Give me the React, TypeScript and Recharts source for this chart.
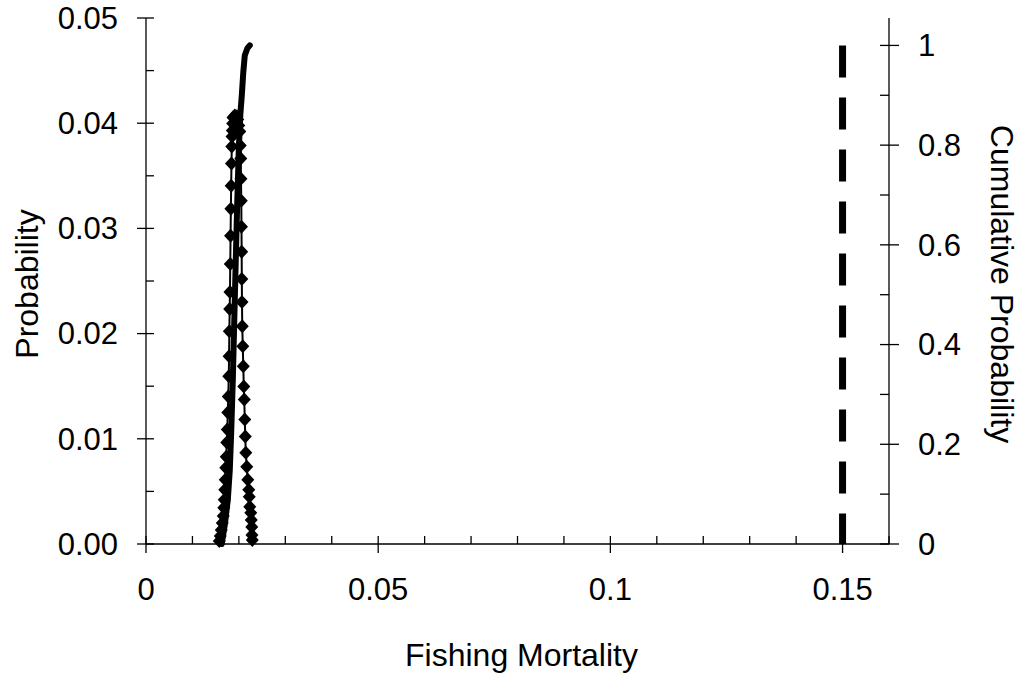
import React from "react";
import { ComposedChart, Scatter, XAxis, YAxis, Label } from "recharts";

// probability distribution of F (diamonds, left axis)
const densityF = [
  0.01578, 0.01599, 0.01621, 0.01642, 0.01664, 0.01675, 0.01685, 0.01696, 0.01707, 0.01718,
  0.01728, 0.01739, 0.0175, 0.01761, 0.01772, 0.01782, 0.01789, 0.01795, 0.01802, 0.01808,
  0.01815, 0.01821, 0.01828, 0.01834, 0.01841, 0.01847, 0.01853, 0.0186, 0.01866, 0.01873,
  0.01912, 0.01955,
  0.01976, 0.01998, 0.02019, 0.0203, 0.02041, 0.02045, 0.02052, 0.02056, 0.0206, 0.02063,
  0.02067, 0.02073, 0.02084, 0.02095, 0.02106, 0.02116, 0.02127, 0.02138, 0.02149, 0.0217,
  0.02192, 0.02213, 0.02224, 0.02235, 0.02256, 0.02267, 0.02278, 0.02282, 0.02289,
];
const densityP = [
  0.00029, 0.00076, 0.00134, 0.002, 0.00267, 0.00344, 0.0042, 0.00515, 0.00611, 0.00725,
  0.0083, 0.00964, 0.01088, 0.0125, 0.01403, 0.01594, 0.01784, 0.02023, 0.02233, 0.02395,
  0.02662, 0.02929, 0.03187, 0.03406, 0.03616, 0.03779, 0.03874, 0.03931, 0.03998, 0.04055,
  0.04074, 0.04065,
  0.04036, 0.03979, 0.03922, 0.03788, 0.03664, 0.03473, 0.03263, 0.03015, 0.02777, 0.02519,
  0.023, 0.02071, 0.0188, 0.01689, 0.01498, 0.01374, 0.01183, 0.01021, 0.00868, 0.00735,
  0.00611, 0.00515, 0.00448, 0.00353, 0.00296, 0.00229, 0.00162, 0.00086, 0.00038,
];

// cumulative probability (thick line, right axis)
const cumulativeF = [
  0.01631, 0.01696, 0.01761, 0.01804, 0.01836, 0.01869, 0.01901, 0.01933,
  0.01966, 0.01998, 0.0203, 0.02063, 0.02095, 0.02127, 0.02181, 0.02235,
];
const cumulativeP = [
  0, 0.038, 0.088, 0.148, 0.228, 0.329, 0.449, 0.569,
  0.689, 0.79, 0.86, 0.9, 0.946, 0.98, 0.994, 1.0,
];

// reference F (dashed line)
const limitF = [0.15, 0.15];
const limitP = [1, 0];

const xTicks = [0, 0.01, 0.02, 0.03, 0.04, 0.05, 0.06, 0.07, 0.08, 0.09, 0.1, 0.11, 0.12, 0.13, 0.14, 0.15, 0.16];
const leftTicks = [0, 0.005, 0.01, 0.015, 0.02, 0.025, 0.03, 0.035, 0.04, 0.045, 0.05];
const rightTicks = [0, 0.1, 0.2, 0.3, 0.4, 0.5, 0.6, 0.7, 0.8, 0.9, 1];

const FONT = "'Liberation Sans', Arial, sans-serif";

const density = densityF.map((x, i) => ({ x, p: densityP[i] }));
const cumulative = cumulativeF.map((x, i) => ({ x, c: cumulativeP[i] }));
const limit = limitF.map((x, i) => ({ x, c: limitP[i] }));

const tickText = { fontFamily: FONT, fontSize: 31, fill: "#000" };
const titleText = { fontFamily: FONT, fontSize: 32, fill: "#000" };

const XTick = ({ x, y, payload }: any) => {
  const v = payload.value;
  const major = Math.round(v * 100) % 5 === 0;
  return (
    <g>
      <line x1={x} x2={x} y1={y - 8} y2={major ? y + 9 : y} stroke="#000" strokeWidth={1.3} />
      {major && (
        <text x={x} y={y + 45} dy="0.35em" textAnchor="middle" {...tickText}>
          {String(v)}
        </text>
      )}
    </g>
  );
};

const LeftTick = ({ x, y, payload }: any) => {
  const v = payload.value;
  const major = Math.round(v * 1000) % 10 === 0;
  return (
    <g>
      <line x1={major ? x - 9 : x} x2={x + 8} y1={y} y2={y} stroke="#000" strokeWidth={1.3} />
      {major && (
        <text x={x - 28} y={y} dy="0.35em" textAnchor="end" {...tickText}>
          {v.toFixed(2)}
        </text>
      )}
    </g>
  );
};

const RightTick = ({ x, y, payload }: any) => {
  const v = payload.value;
  const major = Math.round(v * 10) % 2 === 0;
  return (
    <g>
      <line x1={x - 9} x2={major ? x + 10 : x} y1={y} y2={y} stroke="#000" strokeWidth={1.3} />
      {major && (
        <text x={x + 29} y={y} dy="0.35em" textAnchor="start" {...tickText}>
          {String(v)}
        </text>
      )}
    </g>
  );
};

const Diamond = (props: any) => {
  const { cx, cy } = props;
  return <path d={`M${cx},${cy - 7}L${cx + 6.5},${cy}L${cx},${cy + 7}L${cx - 6.5},${cy}Z`} fill="#000" />;
};

const NoMarker = () => <g />;

const axisLine = { stroke: "#000", strokeWidth: 1.3 };

export default function App() {
  return (
    <div style={{ width: 1024, height: 675, background: "#fff" }}>
      <style>{`body{margin:0;background:#fff}`}</style>
      <ComposedChart width={1024} height={675} margin={{ top: 18, right: 0, bottom: 0, left: 0 }}>
        <XAxis
          dataKey="x"
          type="number"
          domain={[0, 0.16]}
          ticks={xTicks}
          interval={0}
          tickSize={0}
          tickMargin={0}
          tickLine={false}
          axisLine={axisLine}
          tick={<XTick />}
          height={131}
        >
          <Label
            content={({ viewBox }: any) => (
              <text
                x={viewBox.x + viewBox.width / 2 + 4}
                y={viewBox.y + 111}
                dy="0.35em"
                textAnchor="middle"
                {...titleText}
              >
                Fishing Mortality
              </text>
            )}
          />
        </XAxis>
        <YAxis
          yAxisId="p"
          dataKey="p"
          type="number"
          orientation="left"
          domain={[0, 0.05]}
          ticks={leftTicks}
          interval={0}
          tickSize={0}
          tickMargin={0}
          tickLine={false}
          axisLine={axisLine}
          tick={<LeftTick />}
          width={146}
        >
          <Label
            content={({ viewBox }: any) => {
              const cx = viewBox.x + 27;
              const cy = viewBox.y + viewBox.height / 2 + 3;
              return (
                <text
                  x={cx}
                  y={cy}
                  dy="0.35em"
                  textAnchor="middle"
                  transform={`rotate(-90 ${cx} ${cy})`}
                  {...titleText}
                >
                  Probability
                </text>
              );
            }}
          />
        </YAxis>
        <YAxis
          yAxisId="c"
          dataKey="c"
          type="number"
          orientation="right"
          domain={[0, 1.055]}
          ticks={rightTicks}
          interval={0}
          tickSize={0}
          tickMargin={0}
          tickLine={false}
          axisLine={axisLine}
          tick={<RightTick />}
          width={135}
        >
          <Label
            content={({ viewBox }: any) => {
              const cx = viewBox.x + viewBox.width - 22;
              const cy = viewBox.y + viewBox.height / 2 + 3;
              return (
                <text
                  x={cx}
                  y={cy}
                  dy="0.35em"
                  textAnchor="middle"
                  transform={`rotate(90 ${cx} ${cy})`}
                  {...titleText}
                >
                  Cumulative Probability
                </text>
              );
            }}
          />
        </YAxis>
        <Scatter
          yAxisId="p"
          data={density}
          fill="#000"
          line={{ stroke: "#000", strokeWidth: 2 }}
          shape={Diamond}
          isAnimationActive={false}
        />
        <Scatter
          yAxisId="c"
          data={cumulative}
          fill="#000"
          line={{ stroke: "#000", strokeWidth: 6, strokeLinecap: "round", strokeLinejoin: "round" }}
          shape={NoMarker}
          isAnimationActive={false}
        />
        <Scatter
          yAxisId="c"
          data={limit}
          fill="#000"
          line={{ stroke: "#000", strokeWidth: 7, strokeDasharray: "32 20" }}
          shape={NoMarker}
          isAnimationActive={false}
        />
      </ComposedChart>
    </div>
  );
}
